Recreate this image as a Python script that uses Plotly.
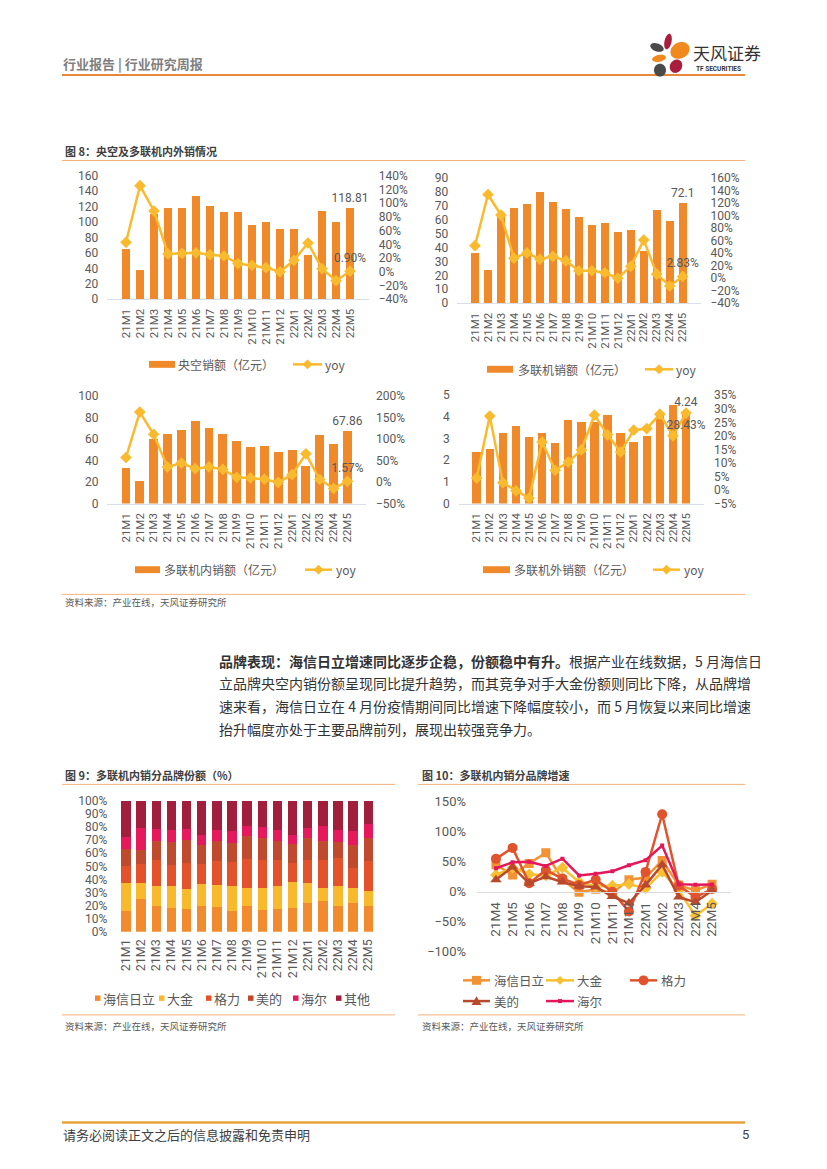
import math
import plotly.graph_objects as go

W, H = 827, 1169

# ---------------- data ----------------
months = ['21M1', '21M2', '21M3', '21M4', '21M5', '21M6', '21M7', '21M8', '21M9',
          '21M10', '21M11', '21M12', '22M1', '22M2', '22M3', '22M4', '22M5']

central_ac = [65.3, 37.5, 110, 118, 118, 133.5, 121, 113.5, 113.5, 96, 100, 90.5, 90.5, 57.6, 114, 100.7, 118.81]
central_ac_yoy = [43, 125.6, 88.7, 26, 27, 27.7, 25, 23, 12, 9.5, 6, 0, 16.7, 42, 4.6, -13, 0.90]

vrf_total = [35.8, 23.7, 64, 68.7, 71.8, 80, 73, 68, 62.3, 56, 57.5, 51, 52.8, 37.7, 67.3, 59.5, 72.1]
vrf_total_yoy = [52, 134, 101, 32, 40.4, 30.4, 35, 27.7, 11.9, 12, 8.7, 0, 19, 61, 6.6, -12.5, 2.83]

vrf_dom = [33.3, 21, 60.2, 65, 68.8, 77, 70.3, 64.5, 58.4, 52.3, 53.8, 48.3, 50.2, 34.6, 63.6, 55, 67.86]
vrf_dom_yoy = [57, 162.5, 111, 35, 44, 31, 35, 29.5, 11, 9.6, 6.6, -1, 17, 65.4, 5.8, -14.8, 1.57]

vrf_exp = [2.4, 2.54, 3.25, 3.6, 3.07, 3.27, 2.81, 3.85, 3.75, 3.78, 4.1, 3.28, 2.83, 3.12, 4.05, 4.55, 4.24]
vrf_exp_yoy = [4.4, 27.3, 2.7, -0.3, -3, 17.7, 7.3, 10.3, 14.8, 27.7, 20.4, 14, 22.1, 22.7, 28, 20, 28.43]

brands = ['海信日立', '大金', '格力', '美的', '海尔', '其他']
share_hisense = [15.9, 24.7, 19.4, 17.9, 17.1, 19.9, 18.6, 15.6, 19.4, 16.4, 17.6, 17.9, 21.7, 23.2, 19.4, 21.7, 19.4]
share_daikin = [21.1, 12.8, 15.4, 17.1, 15.4, 16.9, 17.4, 19.2, 14.1, 17.1, 17.4, 20.1, 15.6, 10.3, 15.6, 11.5, 12.1]
share_gree = [13.4, 14.4, 20.4, 16.1, 20.1, 15.1, 17.9, 18.6, 21.9, 21.2, 19.9, 14.4, 17.4, 21.2, 21.4, 15.7, 22.4]
share_midea = [12.6, 10.6, 13.8, 17.2, 17.2, 14.1, 15.6, 14.1, 17.9, 17.3, 14.6, 14.4, 16.6, 14.8, 11.9, 17.3, 17.9]
share_haier = [9.3, 16.5, 9.8, 9.7, 9.0, 8.3, 8.1, 9.3, 7.8, 8.4, 8.6, 7.5, 8.3, 11.4, 9.3, 11.1, 10.3]
share_other = [27.7, 21.0, 21.2, 22.0, 21.2, 25.7, 22.4, 23.2, 18.9, 19.6, 21.9, 25.7, 20.4, 19.1, 22.4, 22.7, 17.9]

growth_months = ['21M4', '21M5', '21M6', '21M7', '21M8', '21M9', '21M10', '21M11', '21M12',
                 '22M1', '22M2', '22M3', '22M4', '22M5']
growth_hisense = [45, 28, 47, 65, 20, -1, 4, -2, 20, 23.5, 52, 11, 2, 12.6]
growth_daikin = [28, 40, 29, 27, 40, 16, 9, 10, 12.6, 5.5, 33, 2, -40, -20]
growth_gree = [54.7, 73, 14, 36, 22, 11, 20, 0, -33, 33, 129, 10, -9, 4.4]
growth_midea = [20, 41, 14, 25, 16, 9, 8, -8, -19, 11, 45, -9, -17.5, 2]
growth_haier = [39, 49, 50, 43, 55, 27, 30, 34, 44, 52.5, 77, 12.6, 11.5, 12]

# ---------------- styles ----------------
FONT = 'Noto Sans CJK SC'
NUMFONT = 'Roboto'
TICK = '#595959'
DARK = '#404040'
BAR_OR = '#F0892A'
YOY_C = '#FABA2E'
BRAND_C = ['#F18B2E', '#F8B92D', '#E4522B', '#BF4A2E', '#E6195D', '#A21E3D']
LINE_C = ['#F39234', '#F9C032', '#E1532C', '#B9492D', '#E5175B']


def fx(px):
    return px / W


def fy(py):
    return 1 - py / H


shapes = []
annotations = []


def text(t, px, py, size=12, color=TICK, xanchor='left', yanchor='middle', family=FONT):
    annotations.append(dict(text=t, x=fx(px), y=fy(py), xref='paper', yref='paper',
                            showarrow=False, xanchor=xanchor, yanchor=yanchor, borderpad=0,
                            font=dict(family=family, size=size, color=color)))


def hline(x0, x1, y, color, width=1):
    shapes.append(dict(type='line', xref='paper', yref='paper', x0=fx(x0), x1=fx(x1),
                       y0=fy(y), y1=fy(y), line=dict(color=color, width=width)))


def rect(x0, x1, y0, y1, color):
    shapes.append(dict(type='rect', xref='paper', yref='paper', x0=fx(x0), x1=fx(x1),
                       y0=fy(y1), y1=fy(y0), fillcolor=color, line=dict(width=0)))


def poly(points, color):
    p = 'M ' + ' L '.join(f'{fx(a):.5f},{fy(b):.5f}' for a, b in points) + ' Z'
    shapes.append(dict(type='path', xref='paper', yref='paper', path=p,
                       fillcolor=color, line=dict(width=0)))


def ellipse(cx, cy, rx, ry, ang, color):
    a = math.radians(ang)
    pts = []
    for i in range(36):
        t = 2 * math.pi * i / 36
        x, y = rx * math.cos(t), ry * math.sin(t)
        pts.append((cx + x * math.cos(a) - y * math.sin(a), cy + x * math.sin(a) + y * math.cos(a)))
    poly(pts, color)


def marker(kind, cx, cy, s, color):
    h = s / 2
    if kind == 'diamond':
        poly([(cx, cy - h), (cx + h, cy), (cx, cy + h), (cx - h, cy)], color)
    elif kind == 'square':
        rect(cx - h, cx + h, cy - h, cy + h, color)
    elif kind == 'circle':
        ellipse(cx, cy, h, h, 0, color)
    elif kind == 'triangle':
        poly([(cx, cy - h), (cx + h, cy + h * 0.8), (cx - h, cy + h * 0.8)], color)


def leg_line(x0, x1, y, color, kind, s, lw=2.5):
    hline(x0, x1, y, color, lw)
    marker(kind, (x0 + x1) / 2, y, s, color)


# ---------------- figure ----------------
fig = go.Figure()

charts = [
    dict(x='x', y='y', y2='y2', bars=central_ac, yoy=central_ac_yoy, name='央空销额（亿元）',
         bfmt='{:.2f}', tpos='top center'),
    dict(x='x2', y='y3', y2='y4', bars=vrf_total, yoy=vrf_total_yoy, name='多联机销额（亿元）',
         bfmt='{:g}', tpos='top center'),
    dict(x='x3', y='y5', y2='y6', bars=vrf_dom, yoy=vrf_dom_yoy, name='多联机内销额（亿元）',
         bfmt='{:.2f}', tpos='top center'),
    dict(x='x4', y='y7', y2='y8', bars=vrf_exp, yoy=vrf_exp_yoy, name='多联机外销额（亿元）',
         bfmt='{:.2f}', tpos='bottom center'),
]

for c in charts:
    n = len(c['bars'])
    btext = [''] * (n - 1) + [c['bfmt'].format(c['bars'][-1])]
    ltext = [''] * (n - 1) + ['{:.2f}%'.format(c['yoy'][-1])]
    fig.add_trace(go.Bar(x=months, y=c['bars'], xaxis=c['x'], yaxis=c['y'], name=c['name'],
                         marker=dict(color=BAR_OR, line=dict(width=0)), width=0.64,
                         text=btext, textposition='outside', cliponaxis=False,
                         constraintext='none',
                         textfont=dict(family=NUMFONT, size=12, color=TICK), showlegend=False))
    fig.add_trace(go.Scatter(x=months, y=c['yoy'], xaxis=c['x'], yaxis=c['y2'], name='yoy',
                             mode='lines+markers+text', line=dict(color=YOY_C, width=2.5),
                             marker=dict(symbol='diamond', size=9, color=YOY_C),
                             text=ltext, textposition=c['tpos'], cliponaxis=False,
                             textfont=dict(family=NUMFONT, size=12, color=TICK), showlegend=False))

shares = [share_hisense, share_daikin, share_gree, share_midea, share_haier, share_other]
for b, s, col in zip(brands, shares, BRAND_C):
    fig.add_trace(go.Bar(x=months, y=s, xaxis='x5', yaxis='y9', name=b, width=0.62,
                         marker=dict(color=col, line=dict(width=0)), showlegend=False))

growth = [growth_hisense, growth_daikin, growth_gree, growth_midea, growth_haier]
symbols = [('square', 9), ('diamond', 9), ('circle', 10), ('triangle-up', 10), ('square', 4)]
for b, g, col, (sym, sz) in zip(brands[:5], growth, LINE_C, symbols):
    fig.add_trace(go.Scatter(x=growth_months, y=g, xaxis='x6', yaxis='y10', name=b,
                             mode='lines+markers', line=dict(color=col, width=2.5),
                             marker=dict(symbol=sym, size=sz, color=col), showlegend=False))

# ---------------- axes ----------------
tf = lambda s: dict(family=NUMFONT, size=s, color=TICK)


def xax(d0, d1, anchor, size=11.5, **kw):
    a = dict(domain=[fx(d0), fx(d1)], anchor=anchor, type='category', tickangle=-90,
             tickmode='linear', tick0=0, dtick=1,
             tickfont=tf(size), showgrid=False, zeroline=False, ticks='',
             showline=True, linecolor='#D9DEE8', linewidth=1, ticklabelstandoff=4)
    a.update(kw)
    return a


def yax(b, t, anchor, rng, dtick, suffix='', size=12, **kw):
    a = dict(domain=[fy(b), fy(t)], anchor=anchor, range=rng, dtick=dtick, ticksuffix=suffix,
             tickmode='linear', tick0=rng[0],
             tickfont=tf(size), showgrid=False, zeroline=False, ticks='', showline=False,
             ticklabelstandoff=8)
    a.update(kw)
    return a


def y2ax(over, anchor, rng, dtick, suffix='%', size=12):
    return dict(overlaying=over, side='right', anchor=anchor, range=rng, dtick=dtick,
                tickmode='linear', tick0=rng[0],
                ticksuffix=suffix, tickfont=tf(size), showgrid=False, zeroline=False,
                ticks='', showline=False, ticklabelstandoff=9)


layout_axes = dict(
    xaxis=xax(107.3, 368.7, 'y'),
    yaxis=yax(296, 171, 'x', [0, 160], 20),
    yaxis2=y2ax('y', 'x', [-40, 140], 20),
    xaxis2=xax(457.2, 700.5, 'y3'),
    yaxis3=yax(300, 173.5, 'x2', [0, 90], 10),
    yaxis4=y2ax('y3', 'x2', [-40, 160], 20),
    xaxis3=xax(107.4, 366, 'y5'),
    yaxis5=yax(503, 394, 'x3', [0, 100], 20),
    yaxis6=y2ax('y5', 'x3', [-50, 200], 50),
    xaxis4=xax(458.8, 703.9, 'y7'),
    yaxis7=yax(503, 393.3, 'x4', [0, 5], 1),
    yaxis8=y2ax('y7', 'x4', [-5, 35], 5),
    xaxis5=xax(118.4, 375.9, 'y9', size=12.5, showline=False),
    yaxis9=yax(936.7, 804.3, 'x5', [0, 100], 10, '%', size=12, ticklabelstandoff=10),
    xaxis6=xax(477, 731, 'free', size=13.5, position=fy(896.3), linecolor='#D9D9D9'),
    yaxis10=yax(957, 805, 'x6', [-100, 150], 50, '%', size=13, ticklabelstandoff=10),
)

# ---------------- page furniture ----------------
# header
text('<b>行业报告 | 行业研究周报</b>', 62, 57, size=13, color='#7F7F7F')
hline(62, 745, 69, '#E8883A', 2)
# logo
ellipse(668, 35, 3.5, 8, 12, '#A81E3C')
ellipse(657, 41, 7, 4, 20, '#4A4A4A')
ellipse(680, 44, 10, 8, -30, '#F08A1E')
ellipse(659, 52, 7, 3.5, -12, '#F08A1E')
ellipse(676, 60, 6, 7, 30, '#A81E3C')
ellipse(660, 64, 6, 6.5, 0, '#4A4A4A')
text('天风证券', 692, 46, size=17, color='#333333')
text('<b>TF SECURITIES</b>', 695, 63, size=6.5, color='#333333', family=NUMFONT)

# figure 8
text('<b>图 8：央空及多联机内外销情况</b>', 64, 146, size=11, color=DARK)
hline(62, 745, 155.5, '#F3B27E', 1)
legend_top = [
    (149, 175, 362, '央空销额（亿元）', 177, 293, 322, 324),
    (487, 513, 367, '多联机销额（亿元）', 517, 645, 673, 675),
    (135, 160, 570, '多联机内销额（亿元）', 163, 305, 332, 335),
    (483, 510, 570, '多联机外销额（亿元）', 513, 653, 680, 683),
]
for bx0, bx1, ly, lab, tx, lx0, lx1, ytx in legend_top:
    rect(bx0, bx1, ly - 3.5, ly + 3.5, BAR_OR)
    text(lab, tx, ly, size=12)
    leg_line(lx0, lx1, ly, YOY_C, 'diamond', 10)
    text('yoy', ytx, ly, size=12)
hline(62, 745, 595, '#F3B27E', 1)
text('资料来源：产业在线，天风证券研究所', 64, 603, size=9.5, color=TICK)

# paragraph
para = [
    '<b>品牌表现：海信日立增速同比逐步企稳，份额稳中有升。</b>根据产业在线数据，5 月海信日',
    '立品牌央空内销份额呈现同比提升趋势，而其竞争对手大金份额则同比下降，从品牌增',
    '速来看，海信日立在 4 月份疫情期间同比增速下降幅度较小，而 5 月恢复以来同比增速',
    '抬升幅度亦处于主要品牌前列，展现出较强竞争力。',
]
for i, line in enumerate(para):
    text(line, 218, 662 + 23 * i, size=14, color='#333333')

# figure 9 / 10 titles
text('<b>图 9：多联机内销分品牌份额（%）</b>', 64, 778, size=11, color=DARK)
hline(62, 395, 787.5, '#F3B27E', 1)
text('<b>图 10：多联机内销分品牌增速</b>', 421, 778, size=11, color=DARK)
hline(418, 745, 787.5, '#F3B27E', 1)

# figure 9 legend
leg9 = [(95, 102), (159, 166), (206, 213), (248, 255), (293, 300), (336, 343)]
for (sx, tx), b, col in zip(leg9, brands, BRAND_C):
    rect(sx, sx + 5.5, 1001.3, 1006.8, col)
    text(b, tx, 1004, size=13)

# figure 10 legend
leg10 = [
    (463, 490, 986, 'square', 9, 493),
    (546, 574, 986, 'diamond', 9, 576),
    (630, 657, 986, 'circle', 10, 660),
    (463, 490, 1007, 'triangle', 10, 493),
    (546, 574, 1007, 'square', 4, 576),
]
for (x0, x1, ly, kind, s, tx), b, col in zip(leg10, brands[:5], LINE_C):
    leg_line(x0, x1, ly, col, kind, s)
    text(b, tx, ly, size=12.5)

hline(62, 395, 1021, '#F3B27E', 1)
hline(418, 745, 1021, '#F3B27E', 1)
text('资料来源：产业在线，天风证券研究所', 64, 1032, size=9.5, color=TICK)
text('资料来源：产业在线，天风证券研究所', 421, 1032, size=9.5, color=TICK)

# footer
hline(62, 745, 1130, '#E8A13C', 2.5)
text('请务必阅读正文之后的信息披露和免责申明', 62, 1142, size=13, color=DARK)
text('5', 750, 1142, size=13, color=DARK, xanchor='right', family=NUMFONT)

fig.update_layout(
    width=W, height=H, autosize=False,
    margin=dict(l=0, r=0, t=0, b=0),
    paper_bgcolor='white', plot_bgcolor='rgba(0,0,0,0)',
    font=dict(family=FONT, color=TICK),
    barmode='stack', showlegend=False, hovermode=False,
    shapes=shapes, annotations=annotations,
    **layout_axes,
)

fig.write_html('out.html', config={'displayModeBar': False, 'staticPlot': True},
               post_script="document.body.style.margin='0';document.body.style.padding='0';"
                           "document.body.style.overflow='hidden';")
